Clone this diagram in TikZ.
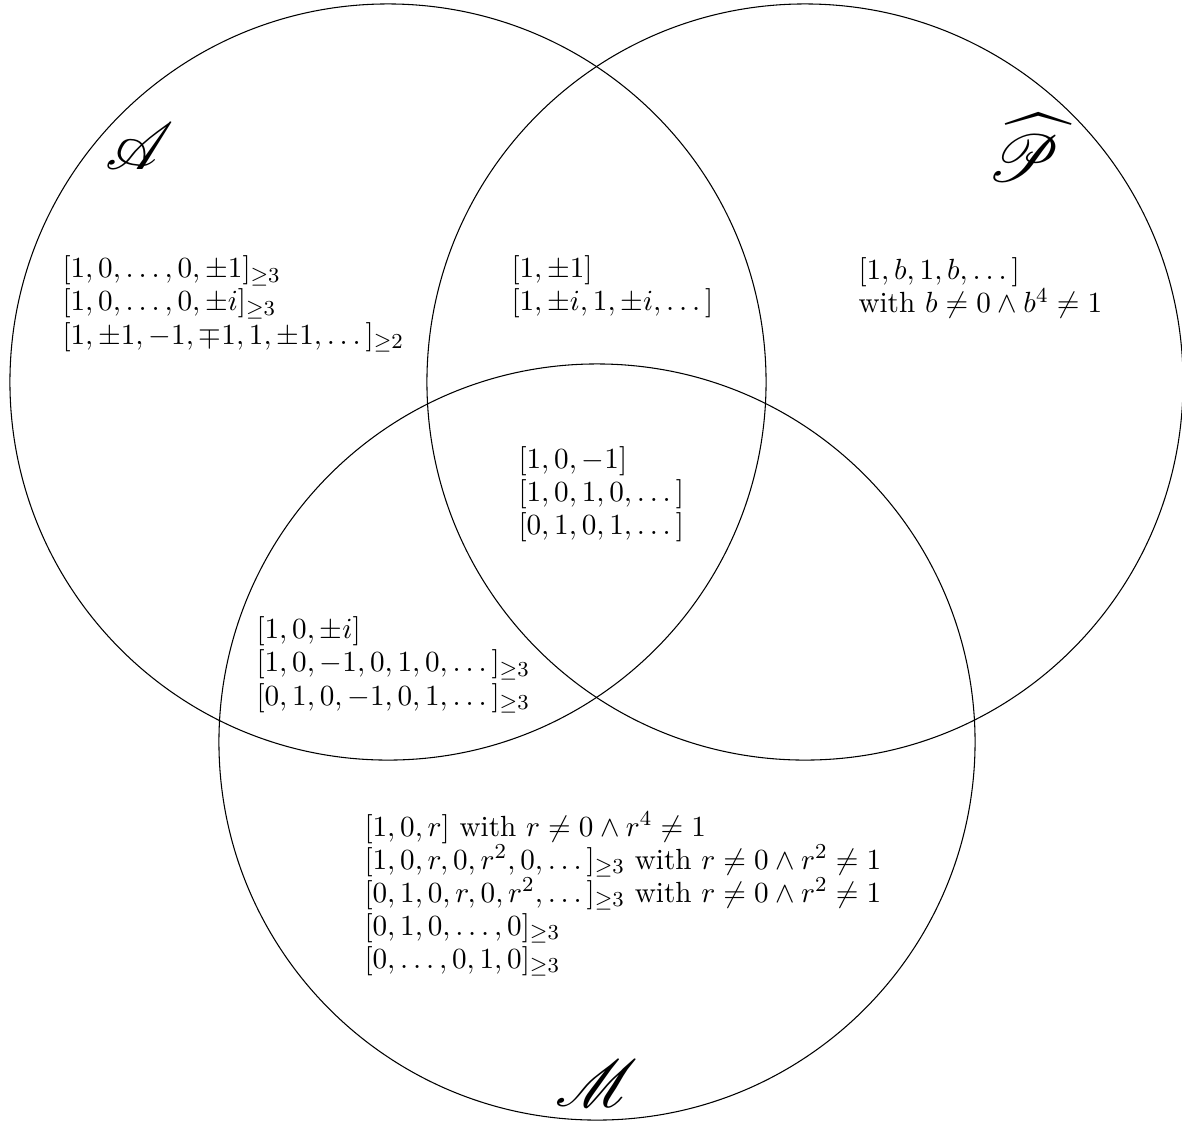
\documentclass[tikz,border=0pt]{standalone}
\usepackage{amsmath,amssymb}
\usepackage{mathrsfs}
\begin{document}
\begin{tikzpicture}[x=0.3752pt,y=-0.3752pt,
  setcircle/.style={draw,circle,inner sep=0pt,minimum size=283.7pt,line width=0.4pt},
  settext/.style={anchor=west,align=left,inner sep=0pt,font=\fontsize{10.95}{12.4}\selectfont},
  setlabel/.style={inner sep=0pt,font=\Huge}]
\useasboundingbox (0,0) rectangle (1182,1121);
\node[setcircle] (cA) at (388,382) {};
\node[setcircle] (cP) at (805,382) {};
\node[setcircle] (cM) at (597,742) {};
\node[setlabel] (lA) at (140,146) {$\mathscr{A}$};
\node[setlabel] (lP) at (1024,148) {$\widehat{\mathscr{P}}$};
\node[setlabel] (lM) at (597,1083) {$\mathscr{M}$};
\node[settext] (tA) at (62,304) {$[1,0,\dots,0,\pm1]_{\geq3}$\\ $[1,0,\dots,0,\pm i]_{\geq3}$\\ $[1,\pm1,-1,\mp1,1,\pm1,\dots]_{\geq2}$};
\node[settext] (tAP) at (511,287) {$[1,\pm1]$\\ $[1,\pm i,1,\pm i,\dots]$};
\node[settext] (tP) at (858,288) {$[1,b,1,b,\dots]$\\ with $b\neq0\wedge b^4\neq1$};
\node[settext] (tAPM) at (518,494) {$[1,0,-1]$\\ $[1,0,1,0,\dots]$\\ $[0,1,0,1,\dots]$};
\node[settext] (tAM) at (256,665) {$[1,0,\pm i]$\\ $[1,0,-1,0,1,0,\dots]_{\geq3}$\\ $[0,1,0,-1,0,1,\dots]_{\geq3}$};
\node[settext] (tM) at (364,894) {$[1,0,r]$ with $r\neq0\wedge r^4\neq1$\\ $[1,0,r,0,r^2,0,\dots]_{\geq3}$ with $r\neq0\wedge r^2\neq1$\\ $[0,1,0,r,0,r^2,\dots]_{\geq3}$ with $r\neq0\wedge r^2\neq1$\\ $[0,1,0,\dots,0]_{\geq3}$\\ $[0,\dots,0,1,0]_{\geq3}$};
\end{tikzpicture}
\end{document}
